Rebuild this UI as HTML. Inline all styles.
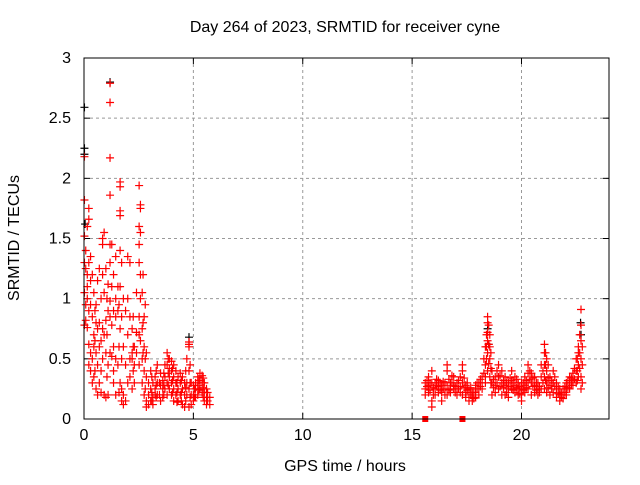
<!DOCTYPE html>
<html><head><meta charset="utf-8"><style>
body{margin:0;background:#fff}
svg text{font-family:"Liberation Sans",sans-serif;font-size:16px;fill:#000}
</style></head><body>
<svg id="chart" width="640" height="480" xmlns="http://www.w3.org/2000/svg">
<rect width="640" height="480" fill="#fff"/>
<text x="345" y="32" text-anchor="middle">Day 264 of 2023, SRMTID for receiver cyne</text>
<text x="345" y="471" text-anchor="middle">GPS time / hours</text>
<text transform="translate(19,238) rotate(-90)" text-anchor="middle">SRMTID / TECUs</text>
<g id="grid"></g>
<g id="ticks"></g>
<g id="black"></g>
<g id="red"></g>
<rect x="84" y="58" width="525" height="361" fill="none" stroke="#000" stroke-width="1"/>
</svg>
<script>
const xTicks=[0,5,10,15,20];
const yTicks=[0,0.5,1,1.5,2,2.5,3];
const yTickLabels=["0","0.5","1","1.5","2","2.5","3"];
const redT=[0.02,0.08,0.15,0.22,0.3,0.38,0.45,0.55,0.62,0.7,0.78,0.85,0.92,1.0,1.1,1.19,1.27,1.35,1.45,1.55,1.65,1.72,1.8,1.9,2.0,2.1,2.2,2.3,2.4,2.52,2.58,2.66,2.75,2.85,2.95,3.05,3.15,3.25,3.35,3.5,3.6,3.7,3.8,3.9,4.0,4.1,4.2,4.3,4.4,4.5,4.6,4.7,4.8,4.9,5.0,5.1,5.2,5.3,5.4,5.5,5.6,5.75,
15.6,15.75,15.9,16.05,16.2,16.35,16.5,16.6,16.75,16.9,17.05,17.2,17.3,17.45,17.6,17.75,17.9,18.05,18.2,18.35,18.45,18.55,18.65,18.8,18.95,19.1,19.25,19.4,19.55,19.7,19.85,20.0,20.15,20.3,20.45,20.6,20.75,20.9,21.05,21.15,21.3,21.45,21.6,21.75,21.9,22.05,22.2,22.35,22.5,22.6,22.72,
15.68,15.82,15.97,16.12,16.28,16.42,16.68,16.82,16.97,17.12,17.38,17.52,17.68,17.82,17.97,18.12,18.28,18.4,18.5,18.6,18.72,18.88,19.02,19.18,19.32,19.48,19.62,19.78,19.92,20.08,20.22,20.38,20.52,20.68,20.82,20.98,21.1,21.22,21.38,21.52,21.68,21.82,21.98,22.12,22.28,22.42,22.55,22.66,22.78,
3.1,3.3,3.45,3.65,3.85,4.05,4.25,4.45,4.65,4.85,5.05,5.25,5.45,5.65,0.5,1.05,1.6,2.25,2.7,2.8];
const redV=[[0.78,1.05,1.3,2.18,1.82,1.52],[1.25,0.95,0.82,1.4],[1.2,1.1,0.76,1.0,1.6],[1.75,1.66,1.3,0.9,0.62,0.45],[1.35,1.15,0.95,0.55,0.4],[1.2,0.85,0.5,0.3],[1.05,0.7,0.35,0.6],[0.95,0.55,0.25,0.8],[1.15,0.75,0.45,0.2],[1.25,0.8,0.6,0.3],[1.0,0.4,0.22,0.65],[1.5,1.45,1.2,0.75,0.5],[1.55,1.05,0.7,0.2],[1.25,0.82,0.55,0.18],[1.12,0.9,0.45,0.2],[2.79,2.63,2.17,1.86,1.45,1.3,0.98,0.85,0.55],[1.45,1.1,0.78,0.52],[1.2,0.9,0.6,0.3,0.4],[1.35,1.0,0.85,0.5,0.2],[1.1,0.9,0.45],[1.97,1.93,1.73,1.69,1.4,1.1,0.75,0.3],[1.3,0.85,0.5,0.25,0.15],[1.0,0.6,0.2,0.12],[0.9,0.45,0.15],[1.35,1.0,0.7,0.3],[1.3,0.85,0.5,0.35],[0.75,0.55,0.5,0.25],[0.6,0.45,0.3],[1.05,0.72,0.55],[1.94,1.6,1.45,1.3,0.85,0.7,0.45],[1.78,1.75,1.55,1.2,1.0,0.65],[1.05,0.75,0.5,0.3],[0.85,0.6,0.4,0.2],[0.55,0.35,0.15,0.1],[0.3,0.2,0.12],[0.4,0.25,0.15],[0.3,0.18,0.12],[0.35,0.25,0.2],[0.45,0.3,0.2],[0.38,0.28,0.15],[0.32,0.25,0.18],[0.45,0.35,0.25],[0.55,0.45,0.3,0.2],[0.5,0.42,0.35,0.25],[0.48,0.4,0.3,0.2],[0.45,0.35,0.25,0.15],[0.4,0.3,0.2],[0.35,0.25,0.15],[0.38,0.3,0.2],[0.35,0.25,0.12],[0.3,0.2,0.1],[0.5,0.3,0.2],[0.64,0.62,0.6,0.4,0.25,0.1],[0.3,0.2,0.12],[0.28,0.2,0.15],[0.3,0.25,0.18],[0.35,0.28,0.2],[0.38,0.32,0.25],[0.36,0.3,0.22],[0.3,0.22,0.15],[0.25,0.18,0.12],[0.18,0.12],
[0.25,0.3,0.2],[0.35,0.28,0.22],[0.4,0.3,0.1,0.15],[0.3,0.25,0.2],[0.32,0.27,0.22],[0.28,0.22,0.15],[0.3,0.25,0.2],[0.45,0.4,0.28,0.2],[0.3,0.25,0.22],[0.35,0.28,0.25],[0.3,0.25,0.2],[0.35,0.27,0.22],[0.45,0.4,0.3,0.2],[0.28,0.22,0.18],[0.25,0.2,0.15],[0.22,0.18,0.15],[0.28,0.22,0.18],[0.3,0.25,0.2],[0.35,0.3,0.25],[0.6,0.45,0.35,0.3],[0.85,0.8,0.72,0.65,0.55,0.4],[0.7,0.6,0.5,0.35],[0.4,0.3,0.2],[0.35,0.28,0.22],[0.45,0.35,0.25],[0.4,0.3,0.2],[0.35,0.28,0.2],[0.3,0.25,0.18],[0.4,0.32,0.25],[0.35,0.28,0.22],[0.3,0.25,0.2],[0.3,0.25,0.2,0.15],[0.35,0.28,0.22],[0.45,0.38,0.3,0.25],[0.38,0.3,0.2],[0.35,0.28,0.22],[0.3,0.25,0.2],[0.45,0.35,0.25],[0.62,0.55,0.45,0.35,0.25],[0.5,0.4,0.3,0.22],[0.35,0.28,0.2],[0.4,0.3,0.22],[0.3,0.25,0.18],[0.25,0.2,0.15],[0.25,0.2,0.17],[0.3,0.25,0.2],[0.35,0.3,0.25],[0.38,0.32,0.28],[0.5,0.4,0.3],[0.6,0.55,0.45,0.35],[0.91,0.78,0.65,0.5,0.35,0.25],
[0.27,0.32],[0.3,0.24],[0.26,0.2],[0.28,0.33],[0.3,0.24],[0.25,0.31],[0.33,0.24],[0.3,0.36],[0.27,0.22],[0.32,0.25],[0.34,0.26],[0.24,0.3],[0.2,0.26],[0.22,0.17],[0.25,0.3],[0.27,0.33],[0.5,0.38],[0.7,0.6,0.5],[0.78,0.62,0.46],[0.55,0.42,0.3],[0.33,0.26],[0.4,0.3],[0.36,0.27],[0.32,0.26],[0.3,0.22],[0.34,0.27],[0.3,0.24],[0.26,0.33],[0.27,0.21],[0.3,0.24],[0.32,0.26],[0.4,0.33],[0.34,0.27],[0.3,0.24],[0.27,0.22],[0.4,0.3],[0.55,0.45,0.32],[0.45,0.34,0.26],[0.32,0.25],[0.35,0.27],[0.27,0.21],[0.22,0.18],[0.27,0.22],[0.32,0.26],[0.34,0.28],[0.42,0.33],[0.5,0.4,0.32],[0.7,0.55,0.42],[0.6,0.45,0.3],
[0.35,0.22,0.15],[0.4,0.28,0.18],[0.3,0.2],[0.38,0.28,0.2],[0.5,0.38,0.28],[0.42,0.32,0.22],[0.3,0.22,0.14],[0.32,0.22,0.15],[0.4,0.26,0.15],[0.45,0.3,0.18],[0.25,0.18],[0.32,0.24],[0.34,0.26,0.18],[0.22,0.15],[0.9,0.65,0.4],[1.0,0.7,0.35],[0.95,0.6,0.22],[0.85,0.6,0.4],[1.2,0.8,0.55],[0.95,0.5,0.25]];
const blackT=[0.02,0.02,0.02,0.05,1.19,4.8,18.45,18.5,22.7,22.72];
const blackV=[2.59,2.25,2.2,1.62,2.8,0.68,0.75,0.62,0.8,0.7];
const squareT=[15.6,17.3];
const squareV=[0,0];

const NS="http://www.w3.org/2000/svg";
const X0=84,X1=609,Y0=419,Y1=58;
function xs(t){return X0+(t/24)*(X1-X0);}
function ys(v){return Y0-(v/3)*(Y0-Y1);}
function mk(tag,attrs,parent){const e=document.createElementNS(NS,tag);for(const k in attrs)e.setAttribute(k,attrs[k]);parent.appendChild(e);return e;}
const grid=document.getElementById('grid'),ticks=document.getElementById('ticks'),svg=document.getElementById('chart');
xTicks.forEach(t=>{const x=xs(t);
 if(t>0){const g=mk('line',{x1:x,x2:x,y1:Y1,y2:Y0,stroke:'#999','stroke-dasharray':'3,3'},grid);
 
 }
 mk('line',{x1:x,x2:x,y1:Y0,y2:Y0-6,stroke:'#000'},ticks);
 mk('line',{x1:x,x2:x,y1:Y1,y2:Y1+6,stroke:'#000'},ticks);
 const l=mk('text',{x:x,y:Y0+21,'text-anchor':'middle'},svg);l.textContent=t;
 
 });
yTicks.forEach((v,i)=>{const y=ys(v);
 if(v>0&&v<3){const g=mk('line',{x1:X0,x2:X1,y1:y,y2:y,stroke:'#999','stroke-dasharray':'3,3'},grid);
 
 }
 mk('line',{x1:X0,x2:X0+6,y1:y,y2:y,stroke:'#000'},ticks);
 mk('line',{x1:X1,x2:X1-6,y1:y,y2:y,stroke:'#000'},ticks);
 const l=mk('text',{x:X0-13,y:y+5,'text-anchor':'end'},svg);l.textContent=yTickLabels[i];
 
 });
function plus(x,y,col,parent){const p=mk('path',{d:`M${x-4} ${y}H${x+4}M${x} ${y-4}V${y+4}`,stroke:col,'stroke-width':1.2,fill:'none'},parent);return p;}
const bg=document.getElementById('black');
blackT.forEach((t,i)=>{const p=plus(xs(t),ys(blackV[i]),'#000',bg);
 
 });
const rg=document.getElementById('red');
redT.forEach((t,i)=>{redV[i].forEach(v=>{const p=plus(xs(t),ys(v),'#f00',rg);
 
 });});
squareT.forEach((t,i)=>{const r=mk('rect',{x:xs(t)-3,y:ys(squareV[i])-3,width:6,height:6,fill:'#f00'},rg);
 
 });
</script>
</body></html>
